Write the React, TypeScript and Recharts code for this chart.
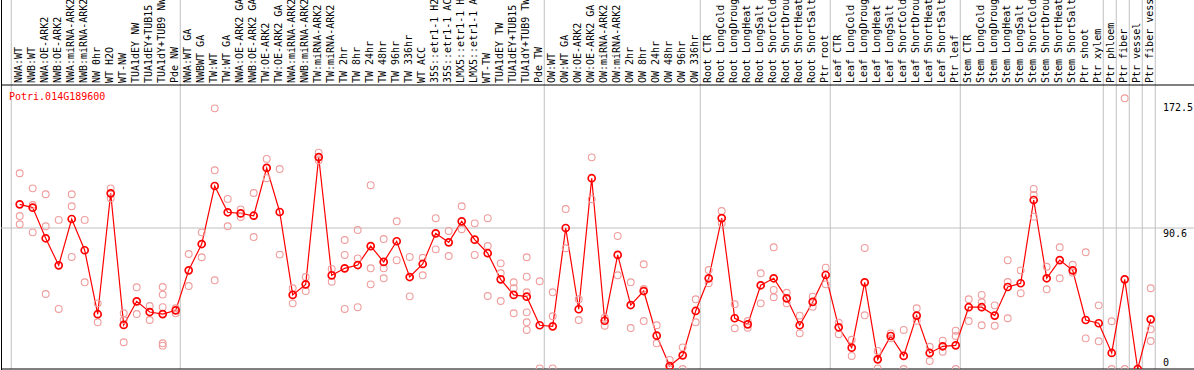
import React from 'react';
import { ComposedChart, Line, Scatter, XAxis, YAxis, ReferenceLine } from 'recharts';

const labels = [
  'NWA:WT', 'NWB:WT', 'NWA:OE-ARK2', 'NWB:OE-ARK2', 'NWA:miRNA-ARK2', 'NWB:miRNA-ARK2', 'NW 0hr', 'WT H2O', 'WT-NW',
  'TUA1dEY NW', 'TUA1dEY+TUB15', 'TUA1dY+TUB9 NW', 'Pde NW',
  'NWA:WT GA', 'NWBWT GA', 'TW:WT', 'TW:WT GA', 'NWA:OE-ARK2 GA', 'NWB:OE-ARK2 GA', 'TW:OE-ARK2', 'TW:OE-ARK2 GA',
  'NWA:miRNA-ARK2', 'NWB:miRNA-ARK2', 'TW:miRNA-ARK2', 'TW:miRNA-ARK2', 'TW 2hr', 'TW 8hr', 'TW 24hr', 'TW 48hr',
  'TW 96hr', 'TW 336hr', 'WT ACC', '35S::etr1-1 H2', '35S::etr1-1 AC', 'LMX5::etr1-1 H', 'LMX5::etr1-1 A', 'WT-TW',
  'TUA1dEY TW', 'TUA1dEY+TUB15', 'TUA1dY+TUB9 TW', 'Pde TW',
  'OW:WT', 'OW:WT GA', 'OW:OE-ARK2', 'OW:OE-ARK2 GA', 'OW:miRNA-ARK2', 'OW:miRNA-ARK2', 'OW 2hr', 'OW 8hr', 'OW 24hr',
  'OW 48hr', 'OW 96hr', 'OW 336hr',
  'Root CTR', 'Root LongCold', 'Root LongDroug', 'Root LongHeat', 'Root LongSalt', 'Root ShortCold', 'Root ShortDrou',
  'Root ShortHeat', 'Root ShortSalt', 'Ptr root',
  'Leaf CTR', 'Leaf LongCold', 'Leaf LongDroug', 'Leaf LongHeat', 'Leaf LongSalt', 'Leaf ShortCold', 'Leaf ShortDrou',
  'Leaf ShortHeat', 'Leaf ShortSalt', 'Ptr leaf',
  'Stem CTR', 'Stem LongCold', 'Stem LongDroug', 'Stem LongHeat', 'Stem LongSalt', 'Stem ShortCold', 'Stem ShortDrou',
  'Stem ShortHeat', 'Stem ShortSalt', 'Ptr shoot',
  'Ptr xylem', 'Ptr phloem', 'Ptr fiber', 'Ptr vessel', 'Ptr fiber vess',
];

// mean expression per sample
const means = [
  105.8, 103.7, 84.0, 66.6, 96.4, 76.3, 35.2, 112.9, 28.3, 43.5, 36.6, 35.3, 37.7,
  63.4, 80.3, 117.6, 100.7, 100.0, 98.5, 129.2, 100.9, 47.6, 54.4, 136.2, 60.2, 64.7, 66.8, 79.0,
  68.8, 82.1, 59.1, 67.5, 87.2, 81.4, 94.9, 83.1, 74.4, 57.6, 47.6, 46.5, 28.1,
  27.4, 90.6, 38.4, 122.6, 31.0, 73.3, 41.1, 50.1, 21.4, 1.9, 8.8, 37.3,
  58.3, 97.0, 32.6, 28.7, 53.8, 58.3, 45.4, 28.1, 43.1, 60.4,
  26.8, 13.7, 55.7, 6.2, 21.2, 8.4, 34.3, 10.3, 14.6, 15.2,
  39.7, 39.7, 34.3, 52.7, 55.1, 108.6, 58.3, 70.0, 63.4, 31.5,
  29.4, 10.3, 57.6, 0, 31.9,
];

// replicate values per sample
const replicates = [
  [125.8, 98.3, 93], [116.1, 105.4, 87.8], [112.3, 91.7, 48.2], [95.8, 38.6], [112.3, 104.6, 72], [95.8, 55.7],
  [42.2, 30], [116.1, 109.7], [35.8, 31.5, 17.2], [52.5, 35.3], [40.5, 31.5], [52.7, 47.8, 39.7, 16.5, 15],
  [39, 35.8],
  [73.9, 53.3], [87.8, 71.8], [167.5, 127.7, 57], [109.3, 91.7], [102.6, 97.7], [113.1, 84.8], [135, 122.6],
  [128.5, 73.5], [51.9, 42.2], [59.1, 50.1], [139, 134.1], [64.3, 56.1], [82.9, 73.3, 38.6], [89.3, 71.1, 39.7],
  [118.1, 64.7, 54.4], [83.5, 64.7, 58.3], [94.9, 69.9], [72, 46.7], [71.5, 60.2], [96.9, 76.9], [88.7, 72.6],
  [104.6, 89.8], [93.6, 73.3], [96.9, 79, 46.9], [67.9, 61.5, 43.7], [55.7, 51.9, 35.8],
  [71.8, 59.3, 49.3, 36.4, 30, 25.1], [56.4, 0.4],
  [49.3, 33.9, 0.4], [102.8, 77.6], [44.8, 31.5], [136, 109.1], [33, 27.8], [85.5, 60.2], [55.7, 26.3],
  [67.3, 51.4, 30.8], [28.1, 16.5], [5.8, 0], [13.9, 0], [44.8, 30],
  [63.6, 55.1], [101.5, 93.6], [41.6, 26.2], [30.8, 26.5], [61.5, 42.2], [78.2, 50.8, 46.1], [49, 42.2],
  [34.3, 22.9], [46.5, 40], [65.1, 54.4],
  [29.8, 22.3], [18.8, 8.4], [77.8, 34.5], [11.6, 0.4], [22.9, 19.7], [25.1, 0], [39, 31], [14.3, 5.1],
  [18.2, 11.1], [24.6, 21.2, 0],
  [44.8, 30.8], [47.6, 42.9, 28.1], [40.9, 27.8], [69.9, 55.9, 32.6], [63.4, 48.7], [115.7, 111.8, 97.9],
  [65.7, 51.2], [78.2, 58.3], [67, 61.9], [75, 19.7],
  [40.9, 17.8], [30.7, 0], [174, 0], [0], [51.9, 25.5, 18],
];

// last sample index of each group (gray separators)
const groupEnds = [-1, 12, 40, 52, 62, 72, 83, 84, 85, 86, 87];
const yTicks = [0, 90.6, 172.5];
const geneName = 'Potri.014G189600';

const WIDTH = 1194;
const HEIGHT = 370;
const STEP = 13;
const X_MIN = -18.7 / STEP;
const X_MAX = X_MIN + (WIDTH - 1) / STEP;
const MONO = '"DejaVu Sans Mono", monospace';

const rows = labels.map((name, idx) => ({ idx, name, mean: means[idx] }));
const reps = replicates.flatMap((vals, idx) => vals.map((v) => ({ idx, v })));

const CatTick = (props: any) => {
  const { x, y, payload } = props;
  const tx = x + 2.5;
  return (
    <text x={tx} y={y} transform={`rotate(-90 ${tx} ${y})`} fontSize={10} fontFamily={MONO} fill="#000" textAnchor="start">
      {labels[payload.value]}
    </text>
  );
};

const ValTick = (props: any) => {
  const { y, payload } = props;
  const dy = payload.value === 0 ? -3.5 : payload.value > 100 ? 10 : 8.5;
  return (
    <text x={WIDTH - 31} y={y + dy} fontSize={10} fontFamily={MONO} fill="#000" textAnchor="start">
      {payload.value}
    </text>
  );
};

const RepDot = (props: any) => (
  <circle cx={props.cx} cy={props.cy} r={3.4} fill="none" stroke="#ef9d9d" strokeWidth={1.1} />
);

export default function App() {
  return (
    <div style={{ position: 'absolute', left: 0, top: 0, width: WIDTH, height: HEIGHT, background: '#fff' }}>
      <div style={{ position: 'absolute', left: 1, top: 0, width: 1, height: HEIGHT, background: '#000' }} />
      <ComposedChart width={WIDTH} height={HEIGHT} data={rows} margin={{ top: 0, right: 0, bottom: 0, left: 1 }}>
        <XAxis
          dataKey="idx"
          type="number"
          orientation="top"
          domain={[X_MIN, X_MAX]}
          allowDataOverflow
          ticks={rows.map((r) => r.idx)}
          interval={0}
          height={85}
          tickLine={false}
          tickSize={0}
          tickMargin={2}
          axisLine={{ stroke: '#000' }}
          tick={<CatTick />}
        />
        <XAxis
          xAxisId="bottom"
          dataKey="idx"
          type="number"
          orientation="bottom"
          domain={[X_MIN, X_MAX]}
          allowDataOverflow
          height={1}
          tick={false}
          tickLine={false}
          axisLine={{ stroke: '#000' }}
        />
        <YAxis
          orientation="right"
          mirror
          domain={[0, 182.5]}
          allowDataOverflow
          ticks={yTicks}
          interval={0}
          axisLine={false}
          tickLine={false}
          tick={<ValTick />}
        />
        <ReferenceLine
          y={90.6}
          stroke="#c0c0c0"
          segment={[{ x: X_MIN, y: 90.6 }, { x: 87.72, y: 90.6 }]}
        />
        {groupEnds.map((g) => (
          <ReferenceLine
            key={g}
            x={g + 0.35}
            stroke="#c0c0c0"
            shape={(p: any) => (
              <line x1={p.x1} x2={p.x2} y1={0} y2={Math.max(p.y1, p.y2)} stroke="#c0c0c0" strokeWidth={1} />
            )}
          />
        ))}
        <Scatter data={reps} dataKey="v" shape={<RepDot />} isAnimationActive={false} />
        <Line
          dataKey="mean"
          stroke="#ff0000"
          strokeWidth={1.2}
          dot={{ r: 3.5, stroke: '#ff0000', strokeWidth: 1.7, fill: 'none' }}
          activeDot={false}
          isAnimationActive={false}
        />
      </ComposedChart>
      <div
        style={{
          position: 'absolute', left: 9, top: 92, fontFamily: MONO, fontSize: 10, lineHeight: '10px', color: '#ff0000',
        }}
      >
        {geneName}
      </div>
    </div>
  );
}
